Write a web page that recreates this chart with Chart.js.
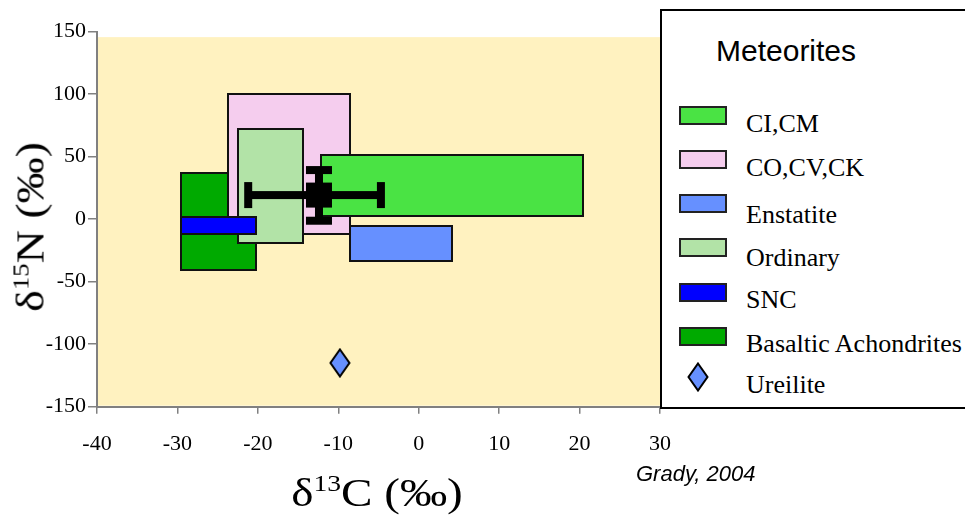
<!DOCTYPE html>
<html>
<head>
<meta charset="utf-8">
<script src="https://cdn.jsdelivr.net/npm/chart.js@4.4.1/dist/chart.umd.min.js"></script>
<style>
  html, body { margin:0; padding:0; width:965px; height:519px; overflow:hidden; background:#fff; }
  #wrap { position:relative; width:965px; height:519px; }
  canvas#c { position:absolute; left:0; top:0; }
  .t { position:absolute; white-space:nowrap; color:#000; }
  .serif { font-family:"Liberation Serif","Times New Roman",serif; }
  .title { font-size:41px; line-height:41px; }
  .title sup { font-size:24px; line-height:0; vertical-align:baseline; position:relative; top:-15px; }
  #legend { position:absolute; left:660px; top:8.5px; width:400px; height:396px; border:2px solid #000; background:#fff; }
  .sw { position:absolute; width:44px; height:15px; border:2px solid #222; }
  .lt { position:absolute; font-family:"Liberation Serif","Times New Roman",serif; font-size:26px; line-height:26px; white-space:nowrap; }
</style>
</head>
<body>
<div id="wrap">
  <canvas id="c" width="965" height="519"></canvas>
  <div id="legend"></div>
  <div class="t serif title" id="ytitle">δ<sup>15</sup>N (‰)</div>
  <div class="t serif title" id="xtitle">δ<sup>13</sup>C (‰)</div>
  <div class="t" id="credit" style="font-family:'Liberation Sans',Arial,sans-serif;font-style:italic;font-size:22px;line-height:22px;">Grady, 2004</div>
</div>
<script>
// ---------------- DATA ----------------
const groupNames = ['CI,CM', 'CO,CV,CK', 'Enstatite', 'Ordinary', 'SNC', 'Basaltic Achondrites'];
const boxC13Min = [-12.1, -23.7, -8.6, -22.5, -29.5, -29.5];
const boxC13Max = [20.4, -8.6, 4.2, -14.4, -20.2, -20.2];
const boxN15Min = [2.5, -12, -33.5, -19.5, -12, -41];
const boxN15Max = [51, 100, -5.5, 72, 2, 37];
const ureiliteName = 'Ureilite';
const ureiliteC13 = [-9.8];
const ureiliteN15 = [-115];
// mean value with error ranges (black cross)
const meanC13 = [-12.4];
const meanN15 = [19.2];
const meanC13Low = [-21.2];
const meanC13High = [-4.7];
const meanN15Low = [-1.3];
const meanN15High = [39.2];
const xTickValues = [-40, -30, -20, -10, 0, 10, 20, 30];
const yTickValues = [-150, -100, -50, 0, 50, 100, 150];

// ---------------- STYLE ----------------
const groupColors = ['#4AE344', '#F5CDEE', '#6690FF', '#B2E3A7', '#0000FF', '#00AA00'];
const drawOrder = [5, 1, 3, 4, 0, 2];
const ureiliteColor = '#6690FF';
const plotBg = '#FFF2C0';
const plotBgTopValue = 145.5;

function makeDiamond() {
  const cv = document.createElement('canvas');
  cv.width = 22; cv.height = 30;
  const g = cv.getContext('2d');
  g.beginPath();
  g.moveTo(11, 1.5); g.lineTo(20.5, 15); g.lineTo(11, 28.5); g.lineTo(1.5, 15); g.closePath();
  g.fillStyle = ureiliteColor; g.fill();
  g.lineWidth = 2; g.strokeStyle = '#000'; g.lineJoin = 'miter'; g.stroke();
  return cv;
}
const diamond = makeDiamond();

const boxesPlugin = {
  id: 'boxes',
  beforeDatasetsDraw(chart) {
    const { ctx, chartArea: a, scales: { x, y } } = chart;
    ctx.save();
    // plot background
    const bgTop = y.getPixelForValue(plotBgTopValue);
    ctx.fillStyle = plotBg;
    ctx.fillRect(a.left + 1, bgTop, a.right - a.left - 1, a.bottom - bgTop - 1);
    // boxes
    ctx.lineWidth = 2;
    ctx.strokeStyle = '#111';
    drawOrder.forEach(i => {
      const x0 = Math.round(x.getPixelForValue(boxC13Min[i]));
      const x1 = Math.round(x.getPixelForValue(boxC13Max[i]));
      const y0 = Math.round(y.getPixelForValue(boxN15Max[i]));
      const y1 = Math.round(y.getPixelForValue(boxN15Min[i]));
      ctx.fillStyle = groupColors[i];
      ctx.fillRect(x0, y0, x1 - x0, y1 - y0);
      ctx.strokeRect(x0, y0, x1 - x0, y1 - y0);
    });
    // mean with error bars
    ctx.fillStyle = '#000';
    meanC13.forEach((mx, i) => {
      const cx = x.getPixelForValue(mx), cy = y.getPixelForValue(meanN15[i]);
      const xl = x.getPixelForValue(meanC13Low[i]), xh = x.getPixelForValue(meanC13High[i]);
      const yl = y.getPixelForValue(meanN15Low[i]), yh = y.getPixelForValue(meanN15High[i]);
      const t = 8, cap = 26;
      ctx.fillRect(xl, cy - t / 2, xh - xl, t);
      ctx.fillRect(xl - t / 2, cy - cap / 2, t, cap);
      ctx.fillRect(xh - t / 2, cy - cap / 2, t, cap);
      ctx.fillRect(cx - t / 2, yh, t, yl - yh);
      ctx.fillRect(cx - cap / 2, yh - t / 2, cap, t);
      ctx.fillRect(cx - cap / 2, yl - t / 2, cap, t);
      ctx.fillRect(cx - 13, cy - 12.5, 26, 25);
    });
    ctx.restore();
  }
};

const chart = new Chart(document.getElementById('c'), {
  type: 'scatter',
  data: {
    datasets: [{
      label: ureiliteName,
      data: ureiliteC13.map((v, i) => ({ x: v, y: ureiliteN15[i] })),
      pointStyle: diamond,
      pointRadius: 12,
      pointHoverRadius: 12
    }]
  },
  options: {
    responsive: false,
    devicePixelRatio: 1,
    animation: false,
    events: [],
    layout: { padding: { left: 37, right: 305, top: 31.5, bottom: 52.3 } },
    plugins: { legend: { display: false }, tooltip: { enabled: false }, title: { display: false } },
    scales: {
      x: {
        type: 'linear', min: -40, max: 30,
        afterBuildTicks(s) { s.ticks = xTickValues.map(v => ({ value: v })); },
        afterFit(s) { s.height = 60; },
        ticks: { font: { family: 'Liberation Serif', size: 22 }, color: '#000', padding: 17, maxRotation: 0, autoSkip: false },
        grid: { drawOnChartArea: false, drawTicks: true, tickLength: 7, color: '#808080', lineWidth: 1.5 },
        border: { color: '#808080', width: 2 }
      },
      y: {
        type: 'linear', min: -150, max: 150,
        afterBuildTicks(s) { s.ticks = yTickValues.map(v => ({ value: v })); },
        afterFit(s) { s.width = 60; },
        ticks: { font: { family: 'Liberation Serif', size: 22 }, color: '#000', padding: 2, autoSkip: false },
        grid: { drawOnChartArea: false, drawTicks: true, tickLength: 9, color: '#808080', lineWidth: 1.5 },
        border: { color: '#808080', width: 2 }
      }
    }
  },
  plugins: [boxesPlugin]
});

// ---------------- LEGEND (HTML) ----------------
const legend = document.getElementById('legend');
const lgLeft = 660, lgTop = 8.5;
const rowSwatchTop = [106, 150, 194.3, 238.3, 282.7, 327.3];
const rowBaseline = [132.7, 176.7, 224, 266.5, 308.3, 352.7];
groupNames.forEach((name, i) => {
  const sw = document.createElement('div');
  sw.className = 'sw';
  sw.style.left = (679 - lgLeft - 2) + 'px';
  sw.style.top = (rowSwatchTop[i] - lgTop - 2) + 'px';
  sw.style.background = groupColors[i];
  legend.appendChild(sw);
  const tx = document.createElement('div');
  tx.className = 'lt';
  tx.textContent = name;
  tx.style.left = (746 - lgLeft - 2) + 'px';
  tx.style.top = (rowBaseline[i] - 21.8 - lgTop - 2) + 'px';
  legend.appendChild(tx);
});
const ld = makeDiamond();
ld.style.position = 'absolute';
ld.style.left = (698.3 - 11 - lgLeft - 2) + 'px';
ld.style.top = (376.7 - 15 - lgTop - 2) + 'px';
legend.appendChild(ld);
const ut = document.createElement('div');
ut.className = 'lt'; ut.textContent = ureiliteName;
ut.style.left = (746 - lgLeft - 2) + 'px';
ut.style.top = (393.3 - 21.8 - lgTop - 2) + 'px';
legend.appendChild(ut);
const lh = document.createElement('div');
lh.className = 't';
lh.textContent = 'Meteorites';
lh.style.cssText += "font-family:'Liberation Sans',Arial,sans-serif;font-size:30px;line-height:30px;";
lh.style.left = (716 - lgLeft - 2) + 'px';
lh.style.top = (63 - 27.2 - lgTop - 2) + 'px';
legend.appendChild(lh);

// ---------------- AXIS TITLES ----------------
const yt = document.getElementById('ytitle');
yt.style.left = '30px'; yt.style.top = '226.7px';
yt.style.transform = 'translate(-50%,-50%) rotate(-90deg) scaleX(1.12)';
const xt = document.getElementById('xtitle');
xt.style.left = '376.5px'; xt.style.top = '492.2px';
xt.style.transform = 'translate(-50%,-50%) scaleX(1.15)';
const cr = document.getElementById('credit');
cr.style.left = '636px'; cr.style.top = (483.3 - 20) + 'px';
</script>
</body>
</html>
